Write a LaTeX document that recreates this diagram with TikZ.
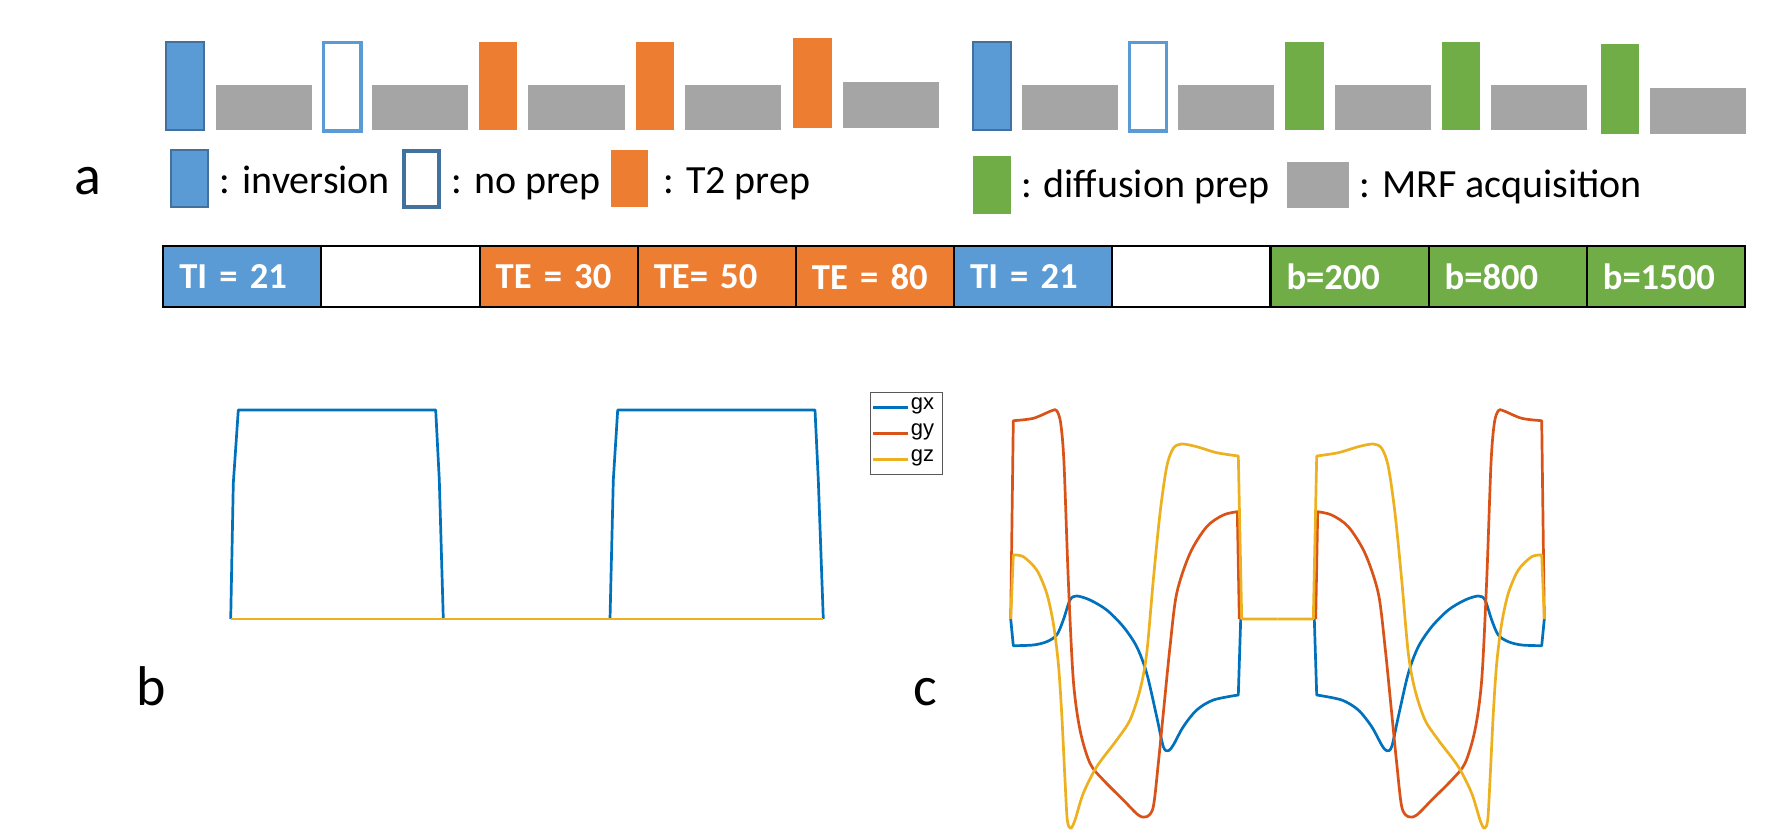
\documentclass[tikz,border=0pt]{standalone}
\usepackage{fontspec}
\setmainfont{Carlito}
\newfontfamily\plotfont{Liberation Sans}

\definecolor{mrfblue}{HTML}{5B9BD5}
\definecolor{mrfblueline}{HTML}{41719C}
\definecolor{mrforange}{HTML}{ED7D31}
\definecolor{mrfgreen}{HTML}{70AD47}
\definecolor{mrfgray}{HTML}{A5A5A5}
\definecolor{gxcol}{HTML}{0072BD}
\definecolor{gycol}{HTML}{D95319}
\definecolor{gzcol}{HTML}{EDB120}

\begin{document}
\begin{tikzpicture}[
    x=0.5pt, y=-0.5pt,
    prepinv/.style={fill=mrfblue, draw=mrfblueline, line width=0.75pt},
    prepnone/.style={fill=white, draw=mrfblue, line width=1.75pt},
    prept2/.style={fill=mrforange},
    prepdiff/.style={fill=mrfgreen},
    mrfacq/.style={fill=mrfgray},
    legtext/.style={anchor=base west, inner sep=0pt, font=\fontsize{20}{24}\selectfont},
    panel/.style={anchor=base west, inner sep=0pt, font=\fontsize{28}{34}\selectfont},
    cell/.style={rectangle, draw=black, line width=1pt, minimum width=79.08pt, minimum height=30.5pt,
                 inner xsep=8pt, text width=63.08pt, align=left, text=white,
                 font=\bfseries\fontsize{18.3}{22}\selectfont},
    grad/.style={line width=1.35pt, line join=round},
    legline/.style={line width=1.35pt}
]
\useasboundingbox (0,0) rectangle (1772,835);

% Sequence blocks
\foreach \xa/\xb/\ya/\yb/\kind in {
    166/204/42/130/prepinv, 216/312/85/130/mrfacq,
    323.5/361/42.5/131/prepnone, 372/468/85/130/mrfacq,
    479/517/42/130/prept2, 528/625/85/130/mrfacq,
    636/674/42/130/prept2, 685/781/85/130/mrfacq,
    793/832/38/128/prept2, 843/939/82/128/mrfacq,
    973/1011/42/130/prepinv, 1022/1118/85/130/mrfacq,
    1129.5/1166.5/42.5/131/prepnone, 1178/1274/85/130/mrfacq,
    1285/1324/42/130/prepdiff, 1335/1431/85/130/mrfacq,
    1442/1480/42/130/prepdiff, 1491/1587/85/130/mrfacq,
    1601/1639/44/134/prepdiff, 1650/1746/88/134/mrfacq}
    \path[\kind] (\xa,\ya) rectangle (\xb,\yb);

% Legend
\path[prepinv] (171,150) rectangle (208,207);
\node (leginv) [legtext] at (219.5,193) {: inversion};
\path[prepnone, draw=mrfblueline, line width=2pt] (403.5,151) rectangle (438.7,207);
\node (legnone) [legtext] at (451,193) {: no prep};
\path[prept2] (610.7,150) rectangle (648.4,207);
\node (legt2) [legtext] at (663,193) {: T2 prep};
\path[prepdiff] (973,156) rectangle (1010.6,214);
\node (legdiff) [legtext] at (1020.6,197) {: diffusion prep};
\path[mrfacq] (1287,162) rectangle (1348.6,207.7);
\node (legacq) [legtext] at (1359,197) {: MRF acquisition};

% Schedule
\foreach \i/\col/\txt in {0/mrfblue/TI = 21, 1/white/{}, 2/mrforange/TE = 30, 3/mrforange/TE= 50,
    4/mrforange/TE = 80, 5/mrfblue/TI = 21, 6/white/{}, 7/mrfgreen/b=200, 8/mrfgreen/b=800, 9/mrfgreen/b=1500}
    \node (cell\i) [cell, fill=\col] at (163.3+158.17*\i+79.08, 276.5) {\txt};

% Panel labels
\node (lbla) [panel] at (74,194) {a};
\node (lblb) [panel] at (136,705) {b};
\node (lblc) [panel] at (913,705) {c};

% Gradients b
\draw[grad, gxcol] (230.7,619) -- (233.3,483.3) -- (238.3,410) -- (435.7,410) -- (439.3,480) -- (443.3,619);
\draw[grad, gxcol] (610,619) -- (613.3,480) -- (617.7,410) -- (815,410) -- (818.3,480) -- (823.3,619);
\draw[grad, gzcol] (230.7,619) -- (823.3,619);

% Gradients c (second half mirrored)
\foreach \s in {1,-1}{
  \begin{scope}[shift={(1277.5,0)}, xscale=\s, shift={(-1277.5,0)}]
    \draw[grad, gxcol] (1010.7,619) -- plot[smooth] coordinates {(1013.3,645.7) (1033.3,645) (1046.7,641.7)
        (1056.7,635) (1063.3,620) (1070,600) (1076.7,596) (1090,600) (1106.7,610) (1123.3,626.7)
        (1136.7,646.7) (1146.7,673.3) (1156.7,716.7) (1163.3,746.7) (1168.3,750.7) (1173.3,745)
        (1183.3,726.7) (1196.7,710) (1213.3,700) (1238.3,695)} -- (1240.7,619);
    \draw[grad, gycol] (1010.7,619) -- plot[smooth] coordinates {(1013.3,420.7) (1033.3,418.3) (1051.7,410.7)
        (1056.7,410.7) (1060.7,423.3) (1064,463.3) (1068.3,580) (1073.3,680) (1080,730) (1090,763.3)
        (1103.3,780) (1123.3,800) (1138.3,815) (1146.7,816.7) (1153.3,806.7) (1158.3,763.3)
        (1163.3,713.3) (1170,646.7) (1176.7,593.3) (1190,553.3) (1206.7,526.7) (1223.3,515)
        (1237.3,511.7)} -- (1239.3,619);
    \draw[grad, gzcol] (1010.7,619) -- plot[smooth] coordinates {(1013.3,555) (1023.3,556.7) (1036.7,570)
        (1046.7,593.3) (1053.3,623.3) (1058.3,663.3) (1061.7,713.3) (1065,780) (1067.3,820)
        (1070.7,828.3) (1075,820) (1083.3,793.3) (1096.7,766.7) (1116.7,740) (1130,720) (1140,690)
        (1146.7,653.3) (1153.3,580) (1160,513.3) (1166.7,466.7) (1173.3,448.3) (1181.7,444)
        (1196.7,446.7) (1216.7,452.7) (1238.3,456)} -- (1241.7,619) -- (1277.5,619);
  \end{scope}
}

% Plot legend
\draw[fill=white, draw=black!65, line width=0.5pt] (870,392.7) rectangle (942.3,474.3);
\draw[legline, gxcol] (873.3,407.3) -- (908.3,407.3);
\draw[legline, gycol] (873.3,433.3) -- (908.3,433.3);
\draw[legline, gzcol] (873.3,459.7) -- (908.3,459.7);
\node (keygx) [anchor=west, inner sep=0pt, font=\plotfont\fontsize{11}{13}\selectfont] at (910.5,406) {gx};
\node (keygy) [anchor=west, inner sep=0pt, font=\plotfont\fontsize{11}{13}\selectfont] at (910.5,432) {gy};
\node (keygz) [anchor=west, inner sep=0pt, font=\plotfont\fontsize{11}{13}\selectfont] at (910.5,458) {gz};

\end{tikzpicture}
\end{document}
